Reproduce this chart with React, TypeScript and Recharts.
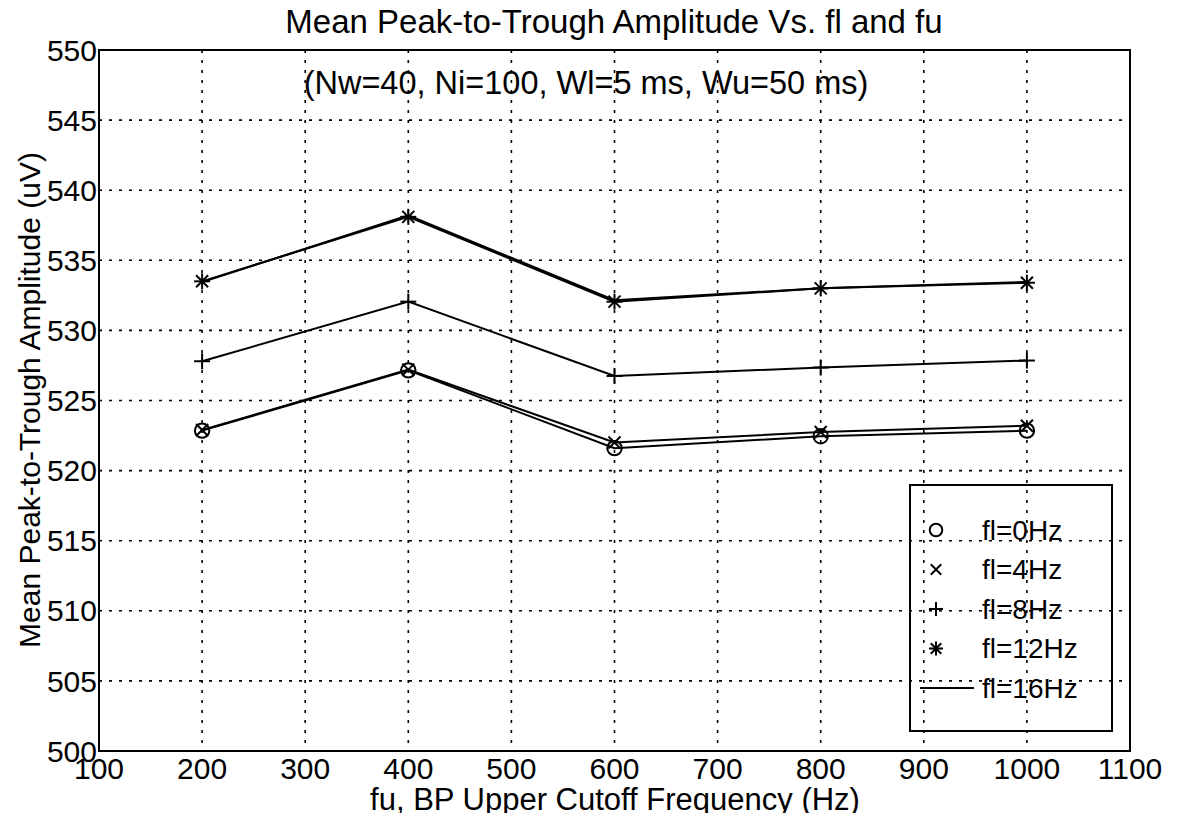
import React from "react";
import {
  LineChart,
  Line,
  XAxis,
  YAxis,
  CartesianGrid,
  Legend,
  ReferenceArea,
} from "recharts";

// ---- data ----
const fu = [200, 400, 600, 800, 1000];
const fl0 = [522.85, 527.15, 521.6, 522.45, 522.85];
const fl4 = [522.9, 527.2, 522.0, 522.75, 523.2];
const fl8 = [527.8, 532.05, 526.75, 527.35, 527.85];
const fl12 = [533.5, 538.1, 532.05, 533.0, 533.4];
const fl16 = [533.45, 538.2, 532.15, 533.0, 533.45];

const xTicks = [100, 200, 300, 400, 500, 600, 700, 800, 900, 1000, 1100];
const yTicks = [500, 505, 510, 515, 520, 525, 530, 535, 540, 545, 550];

const seriesNames = ["fl=0Hz", "fl=4Hz", "fl=8Hz", "fl=12Hz", "fl=16Hz"];
const seriesKeys = ["fl0", "fl4", "fl8", "fl12", "fl16"];
const markerKinds = ["circle", "x", "plus", "star", "line"];

const titleText = "Mean Peak-to-Trough Amplitude Vs. fl and fu";
const noteText = "(Nw=40, Ni=100, Wl=5 ms, Wu=50 ms)";
const xLabel = "fu, BP Upper Cutoff Frequency (Hz)";
const yLabel = "Mean Peak-to-Trough Amplitude (uV)";

const data = fu.map((x, i) => ({
  fu: x,
  fl0: fl0[i],
  fl4: fl4[i],
  fl8: fl8[i],
  fl12: fl12[i],
  fl16: fl16[i],
}));

const FONT = "'Liberation Sans', Arial, Helvetica, sans-serif";
const W = 1164;
const H = 805;

function Marker({ kind, cx, cy, s }: { kind: string; cx: number; cy: number; s: number }) {
  const sw = 2;
  if (kind === "circle") {
    return <circle cx={cx} cy={cy} r={s * 0.9} fill="none" stroke="#000" strokeWidth={sw} />;
  }
  if (kind === "x") {
    const d = s * 0.75;
    return (
      <g stroke="#000" strokeWidth={sw}>
        <line x1={cx - d} y1={cy - d} x2={cx + d} y2={cy + d} />
        <line x1={cx - d} y1={cy + d} x2={cx + d} y2={cy - d} />
      </g>
    );
  }
  if (kind === "plus") {
    return (
      <g stroke="#000" strokeWidth={sw}>
        <line x1={cx - s} y1={cy} x2={cx + s} y2={cy} />
        <line x1={cx} y1={cy - s} x2={cx} y2={cy + s} />
      </g>
    );
  }
  if (kind === "star") {
    const d = s * 0.75;
    return (
      <g stroke="#000" strokeWidth={sw}>
        <line x1={cx - s} y1={cy} x2={cx + s} y2={cy} />
        <line x1={cx} y1={cy - s} x2={cx} y2={cy + s} />
        <line x1={cx - d} y1={cy - d} x2={cx + d} y2={cy + d} />
        <line x1={cx - d} y1={cy + d} x2={cx + d} y2={cy - d} />
      </g>
    );
  }
  return null;
}

const makeDot = (kind: string) => (props: any) => {
  const { cx, cy, index } = props;
  if (cx == null || cy == null) return <g key={`e-${kind}-${index}`} />;
  return (
    <g key={`${kind}-${index}`}>
      <Marker kind={kind} cx={cx} cy={cy} s={8} />
    </g>
  );
};

function LegendBox() {
  const rowH = 39.5;
  return (
    <div
      style={{
        width: 204,
        height: 248,
        border: "2px solid #000",
        boxSizing: "border-box",
        position: "relative",
        fontFamily: FONT,
      }}
    >
      <svg width={200} height={244} style={{ position: "absolute", left: 0, top: 0, overflow: "visible" }}>
        {seriesNames.map((name, i) => {
          const cy = 44 + i * rowH;
          const kind = markerKinds[i];
          return (
            <g key={name}>
              {kind === "line" ? (
                <line x1={9} y1={cy} x2={63} y2={cy} stroke="#000" strokeWidth={2} />
              ) : (
                <Marker kind={kind} cx={25} cy={cy} s={7} />
              )}
              <text
                x={71}
                y={cy}
                dominantBaseline="central"
                fontSize={28}
                fontFamily={FONT}
                fill="#000"
              >
                {name}
              </text>
            </g>
          );
        })}
      </svg>
    </div>
  );
}

export default function App() {
  return (
    <div style={{ position: "relative", width: W, height: H, fontFamily: FONT, background: "#fff" }}>
      <LineChart
        width={W}
        height={H}
        data={data}
        margin={{ top: 42, right: 42, bottom: 22, left: 31 }}
      >
        <CartesianGrid stroke="#000" strokeDasharray="3 7" strokeWidth={1.6} />
        <XAxis
          dataKey="fu"
          type="number"
          domain={[100, 1100]}
          ticks={xTicks}
          allowDataOverflow
          height={40}
          tickLine={false}
          tickSize={6}
          tickMargin={1}
          axisLine={{ stroke: "#000", strokeWidth: 2 }}
          tick={{ fill: "#000", fontSize: 30, fontFamily: FONT }}
          interval={0}
        />
        <YAxis
          type="number"
          domain={[500, 550]}
          ticks={yTicks}
          allowDataOverflow
          width={60}
          tickLine={false}
          tickSize={0}
          tickMargin={2}
          axisLine={{ stroke: "#000", strokeWidth: 2 }}
          tick={{ fill: "#000", fontSize: 30, fontFamily: FONT }}
          interval={0}
        />
        <ReferenceArea
          x1={100}
          x2={1100}
          y1={500}
          y2={550}
          fill="none"
          fillOpacity={0}
          stroke="#000"
          strokeWidth={2}
          ifOverflow="visible"
        />
        {seriesKeys.map((k, i) => (
          <Line
            key={k}
            dataKey={k}
            name={seriesNames[i]}
            stroke="#000"
            strokeWidth={2}
            dot={markerKinds[i] === "line" ? false : makeDot(markerKinds[i])}
            activeDot={false}
            isAnimationActive={false}
            type="linear"
          />
        ))}
        <Legend
          layout="horizontal"
          verticalAlign="middle"
          align="center"
          content={() => <LegendBox />}
          wrapperStyle={{ position: "absolute", left: 901, top: 476, width: 204, height: 248 }}
        />
      </LineChart>
      <svg
        width={W}
        height={H}
        style={{ position: "absolute", left: 0, top: 0, pointerEvents: "none", overflow: "visible" }}
      >
        <text x={606} y={25} textAnchor="middle" fontSize={33} fontFamily={FONT} fill="#000">
          {titleText}
        </text>
        <text x={578} y={86} textAnchor="middle" fontSize={32.5} fontFamily={FONT} fill="#000">
          {noteText}
        </text>
        <text x={607} y={802} textAnchor="middle" fontSize={31} fontFamily={FONT} fill="#000">
          {xLabel}
        </text>
        <text
          x={32}
          y={392}
          textAnchor="middle"
          fontSize={30}
          fontFamily={FONT}
          fill="#000"
          transform="rotate(-90 32 392)"
        >
          {yLabel}
        </text>
      </svg>
    </div>
  );
}
